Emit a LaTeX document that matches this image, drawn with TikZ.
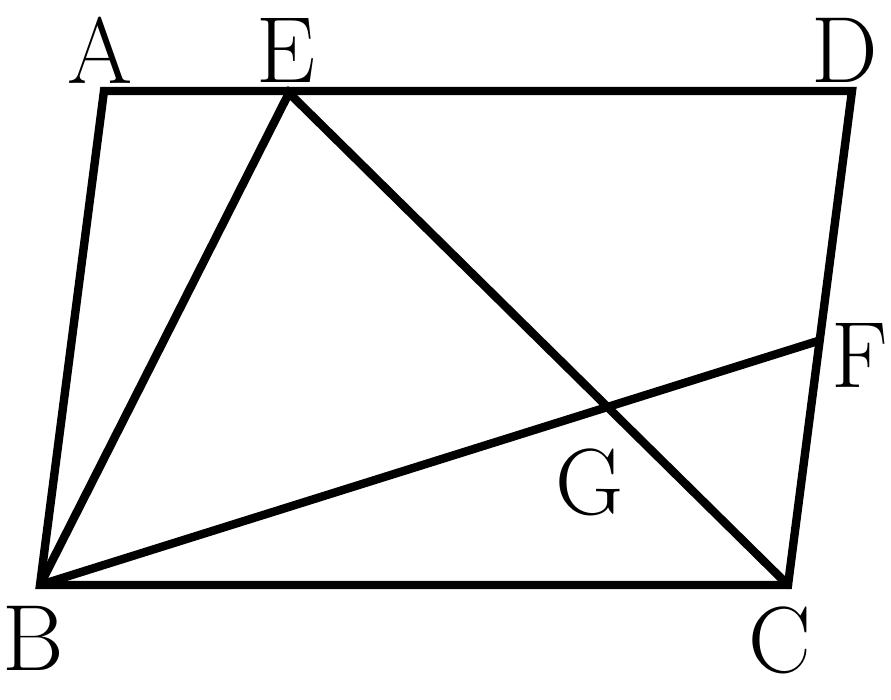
\documentclass[tikz,border=0pt]{standalone}
\begin{document}
\begin{tikzpicture}[x=0.5pt,y=-0.5pt,
  seg/.style={line width=4.2pt,line join=miter,line cap=round},
  lbl/.style={font=\fontsize{47}{56}\selectfont,inner sep=0pt}]
\useasboundingbox (0,0) rectangle (891,700);
\coordinate (A) at (104,91);
\coordinate (E) at (289,93);
\coordinate (D) at (852,91);
\coordinate (B) at (40,585);
\coordinate (C) at (788,585);
\coordinate (F) at (818,341);
\coordinate (G) at (intersection of E--C and B--F);
\draw[seg] (A) -- (D) -- (C) -- (B) -- cycle;
\draw[seg] (B) -- (E) -- (C);
\draw[seg] (B) -- (F);
\node[lbl] (lA) at (100,50) {A};
\node[lbl] (lE) at (286,50) {E};
\node[lbl] (lD) at (845,50) {D};
\node[lbl] (lB) at (33,638) {B};
\node[lbl] (lC) at (780,640) {C};
\node[lbl] (lF) at (860,355) {F};
\node[lbl] (lG) at (590,482) {G};
\end{tikzpicture}
\end{document}
